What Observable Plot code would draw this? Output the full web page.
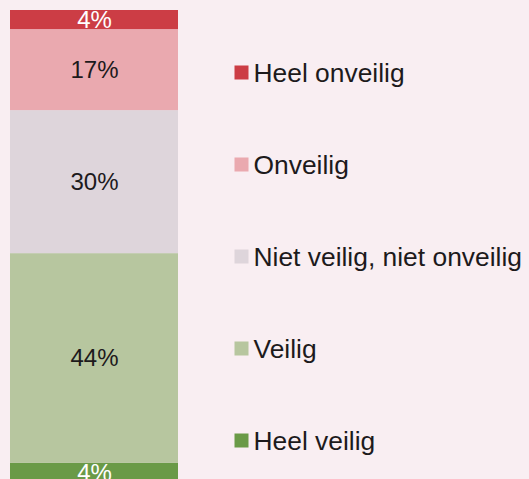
<!DOCTYPE html>
<html>
<head>
<meta charset="utf-8">
<script src="https://cdn.jsdelivr.net/npm/d3@7"></script>
<script src="https://cdn.jsdelivr.net/npm/@observablehq/plot@0.6"></script>
<style>
  html, body { margin: 0; padding: 0; background: #f9eef2; }
  #wrap { position: relative; width: 529px; height: 479px; overflow: hidden; background: #f9eef2; }
  #bar { position: absolute; left: 0; top: 0; }
  #legend { position: absolute; left: 200px; top: 0; }
</style>
</head>
<body>
<div id="wrap"><div id="bar"></div><div id="legend"></div></div>
<script>
// Categories, bottom to top of the stack
const categories = ["Heel veilig", "Veilig", "Niet veilig, niet onveilig", "Onveilig", "Heel onveilig"];
const values = [4, 44, 30, 17, 4];
const colors = ["#6a9a47", "#b7c69f", "#ded5db", "#eaa9af", "#cc3d45"];
const labelColors = ["#ffffff", "#1d1a1c", "#1d1a1c", "#1d1a1c", "#ffffff"];
const group = "Totaal";

const data = categories.map((c, i) => ({group, category: c, value: values[i], labelColor: labelColors[i]}));
const font = "'Liberation Sans', Arial, Helvetica, sans-serif";

const bar = Plot.plot({
  width: 200,
  height: 479,
  margin: 0,
  style: {background: "transparent", fontFamily: font},
  x: {type: "band", domain: [group], range: [10, 178], padding: 0, axis: null},
  y: {domain: [0, 99], range: [482, 10], axis: null},
  color: {domain: categories, range: colors},
  marks: [
    Plot.barY(data, {x: "group", y: "value", fill: "category", order: null}),
    Plot.text(data, Plot.stackY({x: "group", y: "value", order: null, text: d => d.value + "%", fill: "labelColor", fontSize: 24}))
  ]
});
document.getElementById("bar").appendChild(bar);

const legendOrder = categories.slice().reverse();
const legend = Plot.plot({
  width: 329,
  height: 479,
  margin: 0,
  style: {background: "transparent", fontFamily: font},
  y: {type: "point", domain: legendOrder, range: [71, 440], padding: 0, axis: null},
  color: {domain: categories, range: colors},
  marks: [
    Plot.dot(legendOrder, {y: d => d, frameAnchor: "left", dx: 41, symbol: "square", r: 7.9, fill: d => d, stroke: null}),
    Plot.text(legendOrder, {y: d => d, text: d => d, frameAnchor: "left", dx: 53, dy: 1.5, textAnchor: "start", fontSize: 26.4, fill: "#1d1a1c"})
  ]
});
document.getElementById("legend").appendChild(legend);
</script>
</body>
</html>
